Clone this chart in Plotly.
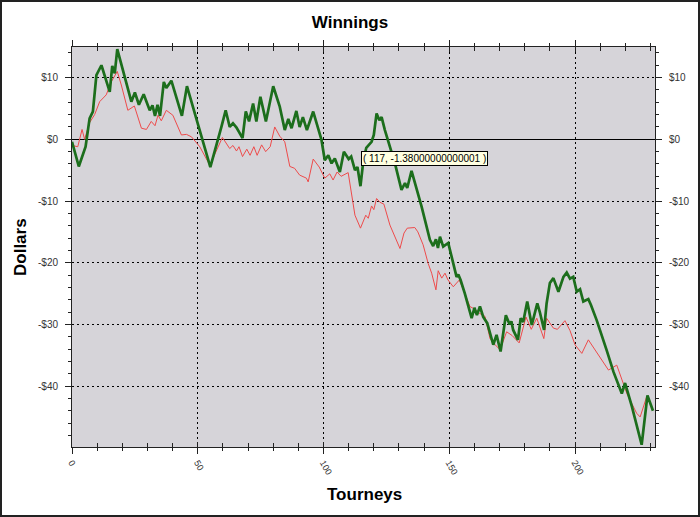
import plotly.graph_objects as go

# Green series (thick) - read vertices (tourney, dollars)
green_x = [0, 2.7, 5.4, 7, 8.3, 9.7, 11.7, 15, 16, 17, 18, 20.3, 23.6, 25, 26.6, 28.5, 30.9, 32, 33, 34, 35,
           36.5, 37.5, 39.5, 43.7, 45.7, 55, 59.4, 61.1, 62.7, 64, 65.4, 67.8, 69.1, 70.4, 72, 73.3, 74.9, 77.1,
           80, 82.6, 84.6, 86, 87.3, 89.2, 90.5, 91.8, 93.4, 95.9, 99.2, 100.5, 101.9, 103.2, 104.5, 106.5,
           108.1, 110, 111, 112.5, 113.5, 114.7, 115.8, 117, 119.1, 120, 121.1, 122.2, 123.1, 124.4, 128.4,
           131, 132.4, 133.3, 135, 139, 142.3, 143.6, 144.7, 145.5, 146.3, 147.6, 149.6, 151.6, 152.9, 153.6,
           154.5, 156.2, 158.9, 160, 161, 162.2, 163.5, 165.1, 167.5, 168.8, 170.4, 172.5, 174, 174.7, 175.4,
           177.3, 178.4, 179.4, 181, 182.8, 185, 186, 187.7, 188.7, 190, 191.4, 193.4, 195.4, 196.7, 198,
           199.3, 200.7, 202, 203.3, 205.3, 206.3, 208.6, 212.6, 215.3, 218.6, 219.9, 222.6, 226.5, 228.8, 231]
green_y = [-0.4, -4.4, -1.2, 3.4, 4.5, 10.4, 12.0, 7.7, 11.9, 10.7, 14.6, 11.2, 6.1, 7.6, 5.6, 7.3, 4.7, 5.5, 3.8, 5.6, 3.8,
           9.3, 8.3, 9.5, 3.8, 8.6, -4.5, 2.0, 4.7, 2.0, 2.6, 1.9, 0.2, 4.5, 2.9, 5.8, 2.9, 6.9, 2.9,
           8.6, 5.3, 1.5, 3.3, 1.8, 4.6, 2.0, 3.6, 1.5, 4.5, -0.1, -3.4, -2.6, -3.9, -3.1, -5.3,
           -2.0, -3.2, -2.8, -5.0, -4.5, -7.6, -3.6, -1.38, -0.4, 0.7, 4.2, 3.1, 3.6, 1.5, -3.9,
           -8.2, -7.1, -7.9, -5.1, -10.9, -16.3, -17.3, -16.2, -17.6, -15.8, -17.4, -16.8, -20.1, -22.3, -21.9,
           -22.8, -25.0, -29.0, -27.3, -28.5, -27.1, -28.8, -29.8, -33.3, -31.7, -34.4, -28.5, -30.0, -29.5, -30.9,
           -32.5, -29.0, -29.6, -26.3, -30.1, -26.6, -28.0, -30.9, -26.6, -23.3, -22.5, -24.7, -22.3, -21.6, -22.6,
           -22.3, -24.7, -24.3, -26.3, -25.9, -26.8, -29.3, -34.2, -37.7, -41.2, -39.5, -43.3, -49.5, -41.5, -44.0]

# Red series (thin)
red_x = [0, 2.3, 4, 5, 7, 9, 11, 13.6, 15.6, 18, 19.6, 22.2, 24.8, 27.6, 29.6, 31.5, 33, 34.2, 35.5, 37.5, 40.1,
         43.5, 45.5, 47.5, 50.8, 54.8, 59.8, 62.7, 64, 65.4, 66.4, 67.8, 69.5, 70.8, 72.3, 73.6, 75.4, 77, 78.8,
         80.6, 82.6, 84.6, 86.6, 88.5, 90.5, 93.2, 93.9, 95.9, 98.3, 100.5, 102.5, 103.8, 105.4, 107, 109.8,
         112.5, 114.7, 116.8, 117.8, 119.1, 120, 121.1, 122.4, 124, 126.4, 129, 130.4, 132, 133.3, 136.3, 137.5,
         139.6, 141.6, 143, 144.7, 145.6, 147, 148.3, 149.5, 151.6, 154, 156.2, 158.2, 160, 162, 164.2, 166.2,
         167.5, 170.2, 172.8, 175, 177.8, 180.5, 182.6, 184.8, 187.6, 188.7, 191.4, 193, 196, 198, 200, 202.7,
         205.3, 207, 210.6, 213.3, 216.6, 220.6, 224.5, 225.9, 228.5, 231]
red_y = [-1.0, -1.2, 1.6, 0.0, 2.7, 4.0, 6.1, 7.2, 9.3, 11.0, 8.8, 4.7, 5.4, 1.8, 1.6, 2.9, 2.2, 3.9, 3.0, 4.7, 3.9,
         0.7, 0.8, 0.4, -1.2, -4.2, 0.3, -1.5, -1.0, -1.9, -1.2, -2.8, -1.6, -2.6, -1.2, -2.6, -0.9, -2.0, -1.2,
         2.0, 0.5, -0.4, -4.4, -4.7, -5.8, -6.3, -6.9, -3.2, -4.5, -6.3, -5.6, -6.6, -5.3, -6.0, -5.4,
         -12.3, -14.4, -12.3, -12.8, -10.8, -11.4, -9.6, -10.2, -10.5, -13.9, -16.3, -17.7, -15.2, -14.4, -14.3, -15.0,
         -17.1, -20.1, -21.7, -24.4, -21.3, -22.5, -21.7, -22.8, -23.9, -22.8, -25.0, -27.1, -27.5, -28.2, -28.7, -32.3,
         -33.0, -34.1, -31.2, -31.8, -33.0, -28.8, -30.8, -29.0, -32.3, -29.0, -30.6, -30.8, -29.4, -31.0, -33.3, -34.7,
         -32.5, -33.5, -35.8, -37.4, -36.6, -41.2, -44.4, -45.0, -41.7, -43.9]

x_ticks = [0, 50, 100, 150, 200]
y_ticks = [10, 0, -10, -20, -30, -40]
y_labels = ["$10", "$0", "-$10", "-$20", "-$30", "-$40"]
tip_x, tip_y = 117, -1.38000000000001

W, H = 700, 517
ML, MR, MT, MB = 72, 45, 47, 70
PW, PH = W - ML - MR, H - MT - MB

XR = [0, 231.8]
YR = [-49.87, 14.96]
FAM = "Liberation Sans, Arial"
AX_FONT = dict(family=FAM, size=10, color="#333333")
GRID_DASH = "2px,3px"

fig = go.Figure()
fig.add_trace(go.Scatter(x=red_x, y=red_y, mode="lines", line=dict(color="#ee4b4b", width=1),
                         xaxis="x", yaxis="y", showlegend=False, hoverinfo="skip"))
fig.add_trace(go.Scatter(x=green_x, y=green_y, mode="lines", line=dict(color="#1c6e1c", width=2.7),
                         xaxis="x2", yaxis="y2", showlegend=False, hoverinfo="skip"))

fig.update_layout(
    width=W, height=H,
    margin=dict(l=ML, r=MR, t=MT, b=MB),
    paper_bgcolor="white", plot_bgcolor="#d6d4d9",
    title=dict(text="<b>Winnings</b>", x=0.5, xref="container", xanchor="center",
               y=1 - 22 / H, yref="container", yanchor="middle",
               font=dict(family=FAM, size=17, color="black")),
    xaxis=dict(range=XR, tickvals=x_ticks, ticktext=[str(v) for v in x_ticks], tickangle=60, automargin=False,
               ticks="outside", ticklen=6, tickcolor="#222", showline=True, linecolor="#222", mirror="ticks",
               showgrid=True, gridcolor="black", griddash=GRID_DASH, gridwidth=1, zeroline=False,
               minor=dict(dtick=10, ticks="outside", ticklen=3, tickcolor="#222", showgrid=False),
               tickfont=dict(family=FAM, size=9, color="#333333")),
    xaxis2=dict(range=XR, overlaying="x", matches="x", showticklabels=False, ticks="inside", ticklen=5,
                tickvals=x_ticks, tickcolor="#222", mirror="ticks", showgrid=False, zeroline=False, automargin=False,
                minor=dict(dtick=10, ticks="inside", ticklen=4, tickcolor="#222")),
    yaxis=dict(range=YR, tickvals=y_ticks, ticktext=y_labels, ticks="outside", ticklen=6, tickcolor="#222",
               showline=True, linecolor="#222", mirror=True, automargin=False, ticklabelstandoff=5,
               showgrid=True, gridcolor="black", griddash=GRID_DASH, gridwidth=1,
               zeroline=True, zerolinecolor="black", zerolinewidth=1,
               minor=dict(dtick=2, tick0=0, ticks="outside", ticklen=3, tickcolor="#222", showgrid=False),
               tickfont=AX_FONT),
    yaxis2=dict(range=YR, overlaying="y", side="right", tickvals=y_ticks, ticktext=y_labels,
                ticks="outside", ticklen=6, tickcolor="#222", showgrid=False, zeroline=False,
                automargin=False, ticklabelstandoff=5,
                minor=dict(dtick=2, tick0=0, ticks="outside", ticklen=3, tickcolor="#222"),
                tickfont=AX_FONT),
    yaxis3=dict(range=YR, overlaying="y", side="left", showticklabels=False, tickvals=y_ticks, automargin=False,
                ticks="inside", ticklen=5, tickcolor="#222", mirror="ticks", showgrid=False, zeroline=False,
                minor=dict(dtick=2, tick0=0, ticks="inside", ticklen=4, tickcolor="#222")),
)

# axis titles
fig.add_annotation(text="<b>Tourneys</b>", xref="paper", yref="paper", x=(364 - ML) / PW, y=-(494 - MT - PH) / PH,
                   showarrow=False, xanchor="center", yanchor="middle",
                   font=dict(family=FAM, size=17, color="black"))
fig.add_annotation(text="<b>Dollars</b>", xref="paper", yref="paper", x=(20 - ML) / PW, y=0.5,
                   showarrow=False, xanchor="center", yanchor="middle", textangle=-90,
                   font=dict(family=FAM, size=17, color="black"))

fig.add_annotation(x=tip_x, y=tip_y, xref="x", yref="y", text="( 117, -1.38000000000001 )",
                   showarrow=False, xanchor="left", yanchor="top", xshift=-5, yshift=-3,
                   font=dict(family=FAM, size=10, color="black"),
                   bgcolor="#ffffe1", bordercolor="black", borderwidth=1, borderpad=1)

# outer frame of the whole picture
fig.add_shape(type="rect", xref="paper", yref="paper",
              x0=(1 - ML) / PW, x1=1 + (MR - 1) / PW, y0=-(MB - 1) / PH, y1=1 + (MT - 1) / PH,
              line=dict(color="#222", width=2), fillcolor="rgba(0,0,0,0)", layer="above")

fig.write_html("out.html", config={"displayModeBar": False},
               post_script="document.body.style.margin='0';document.body.style.overflow='hidden';")
